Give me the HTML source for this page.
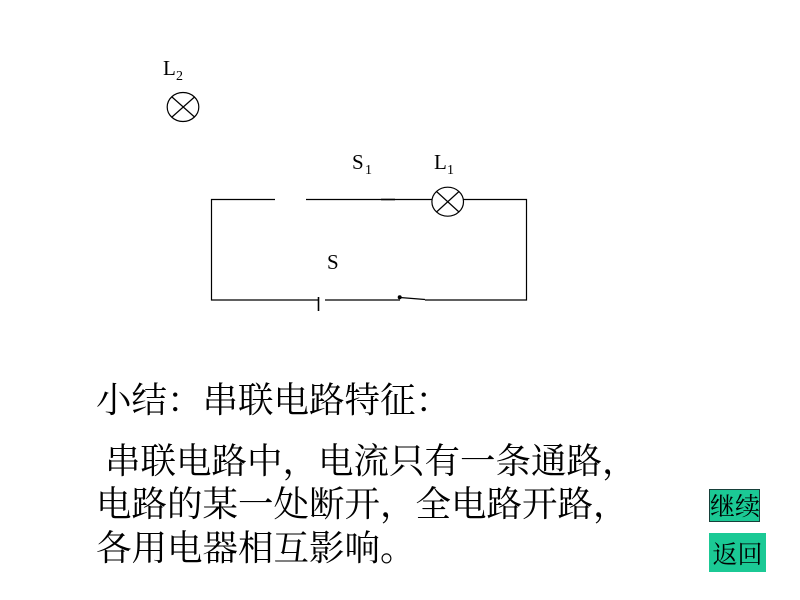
<!DOCTYPE html>
<html lang="zh-CN"><head><meta charset="utf-8"><style>
html,body{margin:0;padding:0;background:#fff}
#p{position:relative;width:800px;height:600px;overflow:hidden;background:#fff}
.t{position:absolute;white-space:nowrap;font-family:"Noto Serif CJK SC",serif;color:#000;text-spacing-trim:space-all;font-kerning:none}
.c{font-size:35.5px;line-height:44px;height:44px}
.b{position:absolute;box-sizing:border-box;background:#1bc995;text-align:center;white-space:nowrap;font-family:"Noto Serif CJK SC",serif;color:#000;font-size:25px;overflow:hidden}
svg{position:absolute;left:0;top:0}
svg text{font-family:"Liberation Serif",serif;fill:#000}
</style></head><body><div id="p">
<svg width="800" height="600" viewBox="0 0 800 600">
<g fill="none" stroke="#000" stroke-width="1.2">
<path d="M275 199.5H211.5V300H318M325 300H400M425 300H526.5V199.5H463M432 199.5H306"/>
<path d="M318.5 297V311" stroke-width="1.6"/>
<path d="M400 297.5L425 299.5"/>
<path d="M381 199.5H395" stroke-width="1.6"/>
<ellipse cx="447.7" cy="201.7" rx="15.8" ry="14.5" fill="#fff"/>
<path d="M436.5 191.5L459 212M459 191.5L436.5 212"/>
<ellipse cx="183" cy="107" rx="15.8" ry="14.5" fill="#fff"/>
<path d="M172 97L194.5 117M194.5 97L172 117"/>
</g>
<circle cx="399.7" cy="297.3" r="2" fill="#000"/>
<text x="163" y="75" font-size="21">L</text><text x="176" y="80" font-size="14">2</text>
<text x="352" y="169" font-size="21">S</text><text x="365" y="174" font-size="14">1</text>
<text x="434" y="169" font-size="21">L</text><text x="447" y="174" font-size="14">1</text>
<text x="327" y="269" font-size="21">S</text>
</svg>
<div class="t c" style="left:96px;top:376px">小结：串联电路特征：</div>
<div class="t c" style="left:105px;top:437px">串联电路中，电流只有一条通路，</div>
<div class="t c" style="left:96px;top:480px">电路的某一处断开，全电路开路，</div>
<div class="t c" style="left:96px;top:524px">各用电器相互影响。</div>
<div class="b" style="left:709px;top:489px;width:51px;height:33px;border:1px solid #17403a;line-height:31px">继续</div>
<div class="b" style="left:709px;top:533px;width:57px;height:39px;line-height:40px">返回</div>
</div></body></html>
